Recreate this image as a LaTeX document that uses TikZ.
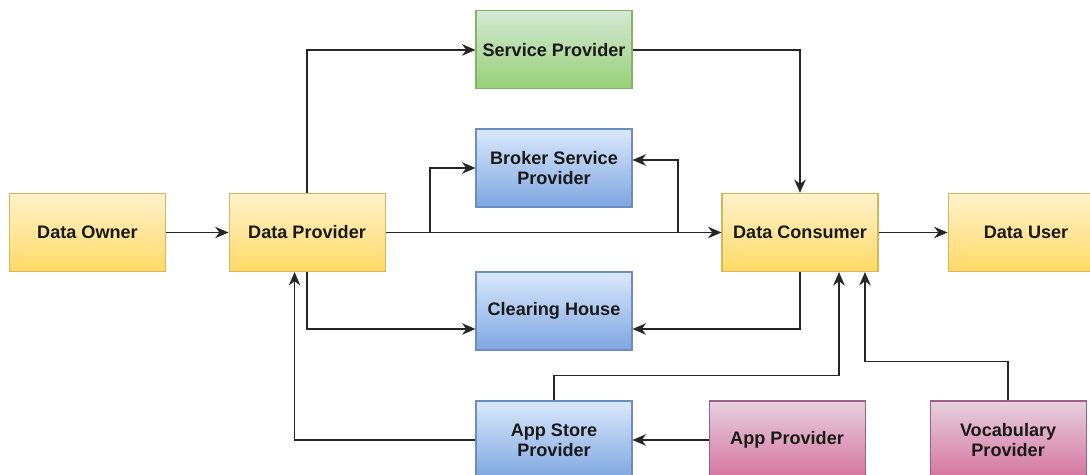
\documentclass[tikz,border=0pt]{standalone}
\usepackage{fontspec}
\setmainfont{Liberation Sans}
\usetikzlibrary{calc, positioning, arrows.meta}
\definecolor{ytop}{HTML}{FFF2CC}\definecolor{ybot}{HTML}{FFD966}\definecolor{yline}{HTML}{D6B656}
\definecolor{btop}{HTML}{DAE8FC}\definecolor{bbot}{HTML}{7EA6E0}\definecolor{bline}{HTML}{6C8EBF}
\definecolor{gtop}{HTML}{D5E8D4}\definecolor{gbot}{HTML}{97D077}\definecolor{gline}{HTML}{82B366}
\definecolor{ptop}{HTML}{E6D0DE}\definecolor{pbot}{HTML}{D5739D}\definecolor{pline}{HTML}{996185}

\begin{document}
\begin{tikzpicture}[box/.style={rectangle, minimum width=3.12cm, minimum height=1.56cm, inner sep=0pt, align=center,
        font=\fontsize{10.3}{11.6}\selectfont\bfseries, text=black!90, line width=0.6pt},
    yellowbox/.style={box, draw=yline, top color=ytop, bottom color=ybot},
    bluebox/.style={box, draw=bline, top color=btop, bottom color=bbot},
    greenbox/.style={box, draw=gline, top color=gtop, bottom color=gbot},
    pinkbox/.style={box, draw=pline, top color=ptop, bottom color=pbot},
    arr/.style={-{Stealth[length=2.7mm, width=2.3mm]}, line width=0.75pt, black!85},
    node distance = 1.3cm]
		\useasboundingbox (0,0) rectangle (21.8,-9.5);
		\node (owner) [yellowbox] at (1.75,-4.65) {Data Owner};
		\node (provider) [yellowbox, right=1.25cm of owner] {Data Provider};
		\node (broker) [bluebox] at (11.08,-3.36) {Broker Service\\Provider};
		\node (service) [greenbox, above=0.78cm of broker] {Service Provider};
		\node (clearing) [bluebox] at (11.08,-6.22) {Clearing House};
		\node (consumer) [yellowbox] at (16,-4.65) {Data Consumer};
		\node (user) [yellowbox, right=1.38cm of consumer] {Data User};
		\node (appstore) [bluebox] at (11.08,-8.8) {App Store\\Provider};
		\node (appprov) [pinkbox, right=1.52cm of appstore] {App Provider};
		\node (vocab) [pinkbox, right=1.28cm of appprov] {Vocabulary\\Provider};
		\coordinate (split1) at (8.6,-4.65);
		\coordinate (split2) at (13.56,-4.65);
		\draw[arr] (owner) -- (provider);
		\draw[arr] (provider) -- (consumer);
		\draw[arr] (consumer) -- (user);
		\draw[arr] (provider.north) |- (service);
		\draw[arr] (service) -| (consumer);
		\draw[arr] (split1) |- (broker);
		\draw[arr] (split2) |- ([yshift=1.6mm]broker.east);
		\draw[arr] (provider.south) |- ([yshift=-3.6mm]clearing.west);
		\draw[arr] (consumer.south) |- ([yshift=-3.6mm]clearing.east);
		\draw[arr] (appstore.north) -- ++(0,0.5) -| ([xshift=0.78cm]consumer.south);
		\draw[arr] (vocab.north) -- ++(0,0.78) -| ([xshift=1.3cm]consumer.south);
		\draw[arr] (appprov) -- (appstore);
		\draw[arr] (appstore) -| ([xshift=-2.5mm]provider.south);
\end{tikzpicture}
\end{document}
